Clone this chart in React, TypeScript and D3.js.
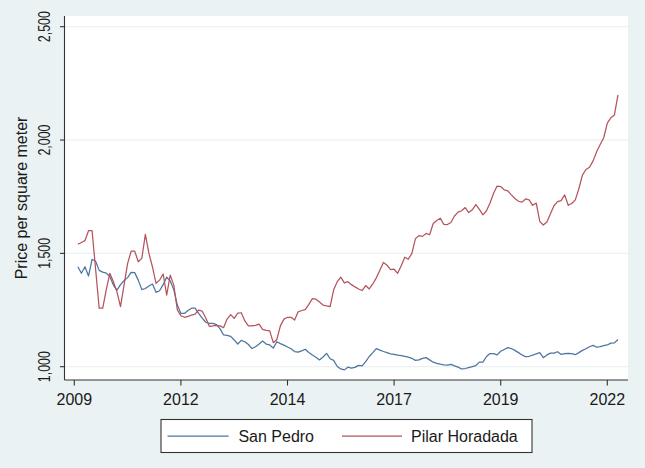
import React, { useEffect } from "react";
import * as d3 from "d3";

// months since 2009m7 for x ticks, with their labels
const tickMonths = [0, 30, 60, 90, 120, 150];
const tickLabels = ["2009", "2012", "2014", "2017", "2019", "2022"];
const yTicks = [1000, 1500, 2000, 2500];
const seriesNames = ["San Pedro", "Pilar Horadada"];
// first observation is 1 month after 2009m7 (2009m8), monthly to 2022m4
const firstMonth = 1;

const sanPedro = [
  1441, 1412, 1441, 1400, 1474, 1465, 1425, 1417, 1413, 1398,
  1360, 1338, 1362, 1380, 1393, 1416, 1415, 1382, 1340, 1345,
  1356, 1365, 1328, 1335, 1362, 1395, 1378, 1340, 1272, 1235,
  1235, 1248, 1258, 1258, 1235, 1214, 1196, 1191, 1191, 1186,
  1168, 1140, 1138, 1134, 1118, 1100, 1116, 1110, 1098, 1080,
  1088, 1100, 1113, 1100, 1096, 1082, 1110, 1102, 1095, 1087,
  1079, 1067, 1064, 1070, 1077, 1063, 1052, 1042, 1030, 1043,
  1059, 1035, 1028, 1001, 990, 986, 998, 994, 997, 1006,
  1004, 1022, 1045, 1062, 1080, 1073, 1067, 1062, 1057, 1054,
  1051, 1049, 1046, 1042, 1037, 1028, 1030, 1037, 1040, 1030,
  1020, 1015, 1011, 1008, 1007, 1010, 1004, 998, 990, 992,
  996, 1000, 1005, 1020, 1020, 1045, 1058, 1058, 1052, 1068,
  1076, 1084, 1080, 1072, 1062, 1052, 1044, 1046, 1051, 1057,
  1062, 1040, 1052, 1060, 1060, 1066, 1054, 1058, 1059, 1058,
  1053, 1062, 1072, 1079, 1088, 1094, 1086, 1089, 1093, 1096,
  1104, 1105, 1120,
];

const pilarHoradada = [
  1540, 1548, 1556, 1600, 1600, 1430, 1258, 1258, 1340, 1412,
  1375, 1330, 1265, 1360, 1455, 1510, 1510, 1463, 1478, 1584,
  1500, 1440, 1368, 1382, 1409, 1316, 1404, 1360, 1250, 1225,
  1218, 1222, 1228, 1232, 1250, 1245, 1215, 1178, 1180, 1182,
  1180, 1172, 1210, 1230, 1213, 1236, 1238, 1202, 1180, 1180,
  1182, 1188, 1165, 1160, 1158, 1106, 1120, 1180, 1210, 1218,
  1218, 1206, 1242, 1248, 1252, 1275, 1300, 1298, 1285, 1272,
  1268, 1265, 1340, 1375, 1395, 1370, 1375, 1362, 1352, 1343,
  1336, 1358, 1343, 1365, 1392, 1426, 1460, 1448, 1428, 1430,
  1412, 1445, 1483, 1474, 1500, 1565, 1578, 1575, 1588, 1582,
  1632, 1645, 1655, 1628, 1627, 1636, 1665, 1682, 1688, 1702,
  1680, 1692, 1715, 1694, 1670, 1688, 1722, 1765, 1797, 1795,
  1780, 1776, 1758, 1742, 1730, 1726, 1740, 1736, 1712, 1722,
  1640, 1625, 1638, 1675, 1710, 1728, 1733, 1758, 1712, 1720,
  1736, 1785, 1845, 1870, 1880, 1908, 1948, 1980, 2010, 2075,
  2098, 2110, 2199,
];

const W = 645;
const H = 468;
const BG = "#eaf2f3";
const BLUE = "#4d74a1";
const RED = "#b5545c";
const AXIS = "#333333";
const FONT = "'Liberation Sans', Arial, sans-serif";

export default function App() {
  useEffect(() => {
    document.body.style.margin = "0";
  }, []);

  const plotL = 64.5;
  const plotR = 628;
  const plotT = 16;
  const plotB = 380;

  const x = d3.scaleLinear().domain([tickMonths[0], tickMonths[tickMonths.length - 1]]).range([74.3, 607.3]);
  const y = d3.scaleLinear().domain([1000, 2500]).range([366.7, 26.7]);

  const line = d3
    .line<number>()
    .x((_, i) => x(firstMonth + i))
    .y((d) => y(d))
    .curve(d3.curveLinear);

  const legendL = 161;
  const legendR = 532;
  const legendT = 419.5;
  const legendB = 452.5;
  const legendMid = (legendT + legendB) / 2;

  return (
    <svg
      width={W}
      height={H}
      style={{ position: "absolute", left: 0, top: 0, display: "block" }}
      fontFamily={FONT}
    >
      <rect x={0} y={0} width={W} height={H} fill={BG} />
      <rect x={plotL} y={plotT} width={plotR - plotL} height={plotB - plotT} fill="#ffffff" />
      {yTicks.map((t) => (
        <line key={"g" + t} x1={plotL} x2={plotR} y1={y(t)} y2={y(t)} stroke={BG} strokeWidth={1.2} />
      ))}

      <path d={line(sanPedro) || ""} fill="none" stroke={BLUE} strokeWidth={1.25} strokeLinejoin="round" />
      <path d={line(pilarHoradada) || ""} fill="none" stroke={RED} strokeWidth={1.25} strokeLinejoin="round" />

      {/* axes */}
      <line x1={plotL} x2={plotL} y1={plotT} y2={plotB} stroke={AXIS} strokeWidth={1.1} />
      <line x1={plotL} x2={plotR} y1={plotB} y2={plotB} stroke={AXIS} strokeWidth={1.1} />

      {yTicks.map((t) => (
        <g key={"y" + t}>
          <line x1={plotL - 4.5} x2={plotL} y1={y(t)} y2={y(t)} stroke={AXIS} strokeWidth={1.1} />
          <text
            transform={`translate(49.5,${y(t)}) rotate(-90)`}
            textAnchor="middle"
            fontSize={16}
            fill="#1a1a1a"
            textLength={31}
            lengthAdjust="spacingAndGlyphs"
          >
            {d3.format(",")(t)}
          </text>
        </g>
      ))}

      {tickMonths.map((m, i) => (
        <g key={"x" + m}>
          <line x1={x(m)} x2={x(m)} y1={plotB} y2={plotB + 5.5} stroke={AXIS} strokeWidth={1.1} />
          <text x={x(m)} y={405} textAnchor="middle" fontSize={16} fill="#1a1a1a">
            {tickLabels[i]}
          </text>
        </g>
      ))}

      <text
        transform={`translate(27,${(plotT + plotB) / 2}) rotate(-90)`}
        textAnchor="middle"
        fontSize={16}
        fill="#1a1a1a"
      >
        Price per square meter
      </text>

      {/* legend */}
      <rect
        x={legendL}
        y={legendT}
        width={legendR - legendL}
        height={legendB - legendT}
        fill="#ffffff"
        stroke={AXIS}
        strokeWidth={1.1}
      />
      <line x1={167.5} x2={228.7} y1={legendMid} y2={legendMid} stroke={BLUE} strokeWidth={1.25} />
      <text x={238.4} y={legendMid + 6} fontSize={16} fill="#1a1a1a">
        {seriesNames[0]}
      </text>
      <line x1={342} x2={402} y1={legendMid} y2={legendMid} stroke={RED} strokeWidth={1.25} />
      <text x={411} y={legendMid + 6} fontSize={16} fill="#1a1a1a">
        {seriesNames[1]}
      </text>
    </svg>
  );
}
